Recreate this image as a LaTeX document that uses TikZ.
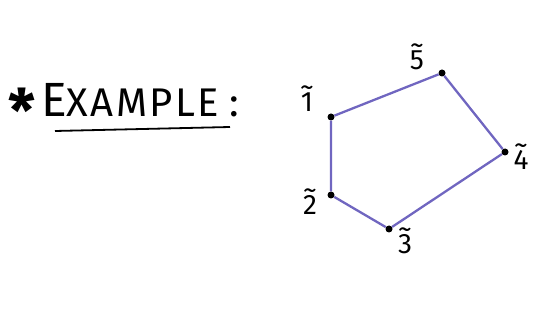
\documentclass[tikz,border=0pt]{standalone}
\usepackage{fontspec}
\setmainfont{Fira Sans}
\definecolor{edgecol}{RGB}{112,102,192}
\newcommand{\tildig}[1]{\ooalign{\hfil#1\hfil\cr\hidewidth\raisebox{0.52em}{\textasciitilde}\hidewidth\cr}}
\begin{document}
\begin{tikzpicture}[x=1pt,y=-1pt,
  vert/.style={circle,fill=black,inner sep=0pt,minimum size=7pt},
  lab/.style={font=\fontsize{28}{30}\selectfont,inner sep=0pt},
  edge/.style={draw=edgecol,line width=2.3pt}]
\useasboundingbox (0,0) rectangle (535,320);
\node[font=\fontsize{40}{42}\selectfont\addfontfeature{LetterSpace=6}, anchor=base west, inner sep=0pt] (title) at (8,117)
  {\raisebox{-16pt}{\fontsize{60}{60}\selectfont\bfseries *}\hspace{6pt}{\fontsize{48}{50}\selectfont E}XAMPLE\hspace{10pt}:};
\coordinate (ul1) at (55,131);
\coordinate (ul2) at (230,127);
\draw[line width=1.8pt] (ul1) -- (ul2);
\node[vert] (v1) at (331,117) {};
\node[vert] (v2) at (331,195) {};
\node[vert] (v3) at (389,229) {};
\node[vert] (v4) at (505,152) {};
\node[vert] (v5) at (442,73) {};
\draw[edge] (v1) -- (v5) -- (v4) -- (v3) -- (v2) -- (v1);
\node[lab] (l1) at (307,102) {\tildig{1}};
\node[lab] (l2) at (310,205) {\tildig{2}};
\node[lab] (l3) at (405,244) {\tildig{3}};
\node[lab] (l4) at (521,160) {\tildig{4}};
\node[lab] (l5) at (417,60) {\tildig{5}};
\end{tikzpicture}
\end{document}
